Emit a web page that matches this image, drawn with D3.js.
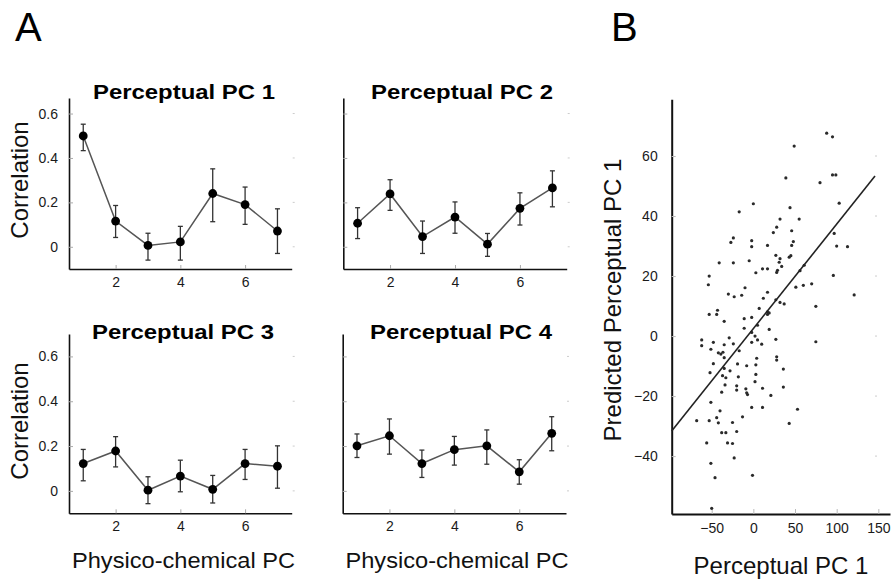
<!DOCTYPE html>
<html>
<head>
<meta charset="utf-8">
<script src="https://cdn.jsdelivr.net/npm/d3@7"></script>
<style>
  html, body { margin: 0; padding: 0; background: #fff; }
  svg { display: block; font-family: "Liberation Sans", Arial, Helvetica, sans-serif; }
  svg text { font-family: "Liberation Sans", Arial, Helvetica, sans-serif; }
</style>
</head>
<body>
<svg id="chart" width="894" height="579"></svg>
<script>
// ---------------- DATA ----------------
const physPC = [1, 2, 3, 4, 5, 6, 7];
const xTickValsA = [2, 4, 6];
const yTickValsA = [0, 0.2, 0.4, 0.6];
const yTickLabelsA = ["0", "0.2", "0.4", "0.6"];

const panelTitles = ["Perceptual PC 1", "Perceptual PC 2", "Perceptual PC 3", "Perceptual PC 4"];

const pc1Mean = [0.499, 0.116, 0.006, 0.022, 0.240, 0.190, 0.071];
const pc1Hi   = [0.552, 0.186, 0.061, 0.092, 0.351, 0.269, 0.171];
const pc1Lo   = [0.433, 0.042, -0.060, -0.060, 0.113, 0.101, -0.030];

const pc2Mean = [0.106, 0.238, 0.046, 0.134, 0.012, 0.173, 0.265];
const pc2Hi   = [0.176, 0.302, 0.116, 0.202, 0.060, 0.243, 0.342];
const pc2Lo   = [0.037, 0.164, -0.030, 0.061, -0.043, 0.098, 0.180];

const pc3Mean = [0.122, 0.178, 0.003, 0.066, 0.007, 0.122, 0.110];
const pc3Hi   = [0.185, 0.242, 0.063, 0.137, 0.069, 0.185, 0.201];
const pc3Lo   = [0.045, 0.107, -0.057, -0.004, -0.054, 0.051, 0.012];

const pc4Mean = [0.201, 0.246, 0.122, 0.184, 0.201, 0.085, 0.257];
const pc4Hi   = [0.254, 0.321, 0.182, 0.243, 0.272, 0.139, 0.331];
const pc4Lo   = [0.149, 0.164, 0.060, 0.115, 0.119, 0.030, 0.179];

// Panel B scatter: actual (Perceptual PC 1) vs predicted
const actualPC1 = [
  88, 95, 49, 39, 80, 95, 99, 103, 0, -17, 44, 32, 55, 28, 24, 46, 48, 46, -2, -2,
  -24, -27, 17, 97, 100, 113, -41, -24, -5, 27, 32, 31, 43, 45, 61, 34, 29, 28, 3, 11,
  17, 56, 96, -53, -54, -10, 51, 60, 70, -30, -23, -14, 17, 12, 27, 32, 37, 75, 121, 7,
  17, 17, 19, -53, -43, -44, -35, -11, -2, -11, 5, 19, -2, 2, -29, -62, -62, -48, -24, -2,
  5, 10, 27, 75, -35, -51, -42, -39, -36.5, -35, -17, 4, 28, 28, -48, -19, -8, 3, -52, -35,
  -28, 36, -37, -33, -18, 3, 2, -34, -20, -20, -9, -8, -7, 11, 36, -38, 21, -51, -2, 11,
  53, -40, -68, -53, -44, -42, -25, -13, 43, -38, -33, -20, -56, -31, -25, -23, -51, -46, -1, -50
];
const predictedPC1 = [
  67.6, 66.4, 63.3, 52.7, 51.1, 53.7, 53.7, 44.3, 44.1, 41.4, 42.8, 39, 39, 36.3, 34.5, 35.1, 31.5, 30.2, 31.8, 29.8,
  32.7, 31.2, 30.2, 34.2, 30, 29.8, 24.4, 24.4, 25.1, 26.9, 25.8, 24.6, 26.3, 26.8, 23.6, 23.2, 21.9, 21.2, 21.1, 22.4,
  22.4, 21.8, 20.2, 20, 17.1, 16.1, 16.3, 16.9, 17.4, 14, 13.1, 13.6, 14.6, 12.6, 12.1, 11.2, 10.7, 9.9, 13.7, 9.2,
  8.1, 7.2, 7.7, 7.2, 8.6, 7.2, 4.9, 5.8, 6.2, 2.6, 3.6, 2.2, 1.2, 0, -0.6, -1.3, -3.2, -2.1, -2.6, -2.1,
  -1.3, -2.7, -1.1, -1.9, -2.9, -4.4, -5.6, -6, -5.4, -7.2, -4.9, -7.4, -6.9, -8, -9.2, -9.3, -9.9, -9.6, -12.2, -10.8,
  -11.6, -11, -13.2, -13.9, -13.6, -12.8, -15.2, -16.3, -16.6, -18, -17.6, -18.9, -19.5, -17.4, -17, -18.7, -19.8, -22.1, -23.8, -23.8,
  -24.4, -24.9, -28.2, -28.2, -27.2, -28.9, -28.8, -26.9, -29.1, -32.2, -32.2, -31.8, -35.6, -35.6, -35.8, -40.6, -42.4, -47.2, -46.4, -57.4
];
const fitIntercept = 2.5;
const fitSlope = 0.348;
const fitRange = [-98, 146];

const xTickValsB = [-50, 0, 50, 100, 150];
const yTickValsB = [-40, -20, 0, 20, 40, 60];

// ---------------- DRAW ----------------
const svg = d3.select("#chart");
const FONT = '"Liberation Sans", Arial, Helvetica, sans-serif';

function styleAxis(gAxis, strokeW, tickColor) {
  gAxis.attr("font-family", FONT);
  gAxis.select(".domain").attr("stroke", "#111").attr("stroke-width", strokeW);
  gAxis.selectAll(".tick line").attr("stroke", tickColor);
  gAxis.selectAll(".tick text").attr("font-size", 14).attr("fill", "#1a1a1a");
}

function drawPanelA(cfg) {
  const x = d3.scaleLinear().domain([0.56, 7.44]).range(cfg.xr);
  const y = d3.scaleLinear().domain(cfg.yd).range(cfg.yr);
  const g = svg.append("g");

  // faint right ticks
  g.selectAll(".rt").data(yTickValsA).enter().append("line")
    .attr("x1", cfg.xr[1] + 1).attr("x2", cfg.xr[1] + 3)
    .attr("y1", d => y(d)).attr("y2", d => y(d))
    .attr("stroke", "#ccc").attr("stroke-width", 1);

  // axes
  const xAxis = d3.axisBottom(x).tickValues(xTickValsA).tickSizeInner(-4).tickSizeOuter(0)
    .tickPadding(8).tickFormat(d3.format("d"));
  styleAxis(g.append("g").attr("transform", `translate(0,${cfg.yr[0]})`).call(xAxis), 1.6, "#aaa");

  const yAxis = d3.axisLeft(y).tickValues(yTickValsA).tickSizeInner(-4).tickSizeOuter(0)
    .tickPadding(11).tickFormat((d, i) => cfg.showY ? yTickLabelsA[i] : "");
  styleAxis(g.append("g").attr("transform", `translate(${cfg.xr[0]},0)`).call(yAxis), 1.6, "#aaa");

  // connecting line
  const line = d3.line().x((d, i) => x(physPC[i])).y(d => y(d));
  g.append("path").datum(cfg.mean).attr("d", line)
    .attr("fill", "none").attr("stroke", "#555").attr("stroke-width", 1.5);

  // error bars
  const eb = g.selectAll(".eb").data(physPC).enter().append("g");
  eb.append("line")
    .attr("x1", d => x(d)).attr("x2", d => x(d))
    .attr("y1", (d, i) => y(cfg.lo[i])).attr("y2", (d, i) => y(cfg.hi[i]))
    .attr("stroke", "#333").attr("stroke-width", 1.3);
  eb.append("line")
    .attr("x1", d => x(d) - 2.5).attr("x2", d => x(d) + 2.5)
    .attr("y1", (d, i) => y(cfg.hi[i])).attr("y2", (d, i) => y(cfg.hi[i]))
    .attr("stroke", "#333").attr("stroke-width", 1.3);
  eb.append("line")
    .attr("x1", d => x(d) - 2.5).attr("x2", d => x(d) + 2.5)
    .attr("y1", (d, i) => y(cfg.lo[i])).attr("y2", (d, i) => y(cfg.lo[i]))
    .attr("stroke", "#333").attr("stroke-width", 1.3);

  // markers
  g.selectAll(".pt").data(physPC).enter().append("circle")
    .attr("cx", d => x(d)).attr("cy", (d, i) => y(cfg.mean[i]))
    .attr("r", 4.4).attr("fill", "#000");

  // title
  g.append("text").attr("x", cfg.tx).attr("y", cfg.ty)
    .attr("text-anchor", "middle").attr("font-size", 21).attr("font-weight", "bold")
    .attr("textLength", 182).attr("lengthAdjust", "spacingAndGlyphs")
    .attr("fill", "#000").text(cfg.title);

  if (cfg.showY) {
    g.append("text")
      .attr("transform", `translate(28,${cfg.ylabY}) rotate(-90)`)
      .attr("text-anchor", "middle").attr("font-size", 24).attr("fill", "#111")
      .text("Correlation");
  }
  if (cfg.showX) {
    g.append("text").attr("x", cfg.xlabX).attr("y", 568)
      .attr("text-anchor", "middle").attr("font-size", 22).attr("fill", "#111")
      .attr("textLength", 223).attr("lengthAdjust", "spacingAndGlyphs")
      .text("Physico-chemical PC");
  }
}

drawPanelA({ xr: [69, 291.7], yd: [-0.1, 0.67], yr: [269, 98], mean: pc1Mean, hi: pc1Hi, lo: pc1Lo,
  title: panelTitles[0], tx: 184, ty: 99, showY: true, showX: false, ylabY: 180 });
drawPanelA({ xr: [343.3, 566.7], yd: [-0.1, 0.67], yr: [269, 98], mean: pc2Mean, hi: pc2Hi, lo: pc2Lo,
  title: panelTitles[1], tx: 462, ty: 99, showY: false, showX: false });
drawPanelA({ xr: [69, 291.7], yd: [-0.1, 0.70], yr: [513.3, 334], mean: pc3Mean, hi: pc3Hi, lo: pc3Lo,
  title: panelTitles[2], tx: 183, ty: 339, showY: true, showX: true, ylabY: 421, xlabX: 183.5 });
drawPanelA({ xr: [342.7, 566], yd: [-0.1, 0.70], yr: [513.3, 334], mean: pc4Mean, hi: pc4Hi, lo: pc4Lo,
  title: panelTitles[3], tx: 461, ty: 339, showY: false, showX: true, xlabX: 457 });

// Panel B
(function () {
  const x = d3.scaleLinear().domain([-98, 164]).range([671.7, 890]);
  const y = d3.scaleLinear().domain([-59.3, 78.9]).range([514, 99.3]);
  const g = svg.append("g");

  // faint right ticks
  g.selectAll(".rt").data(yTickValsB).enter().append("line")
    .attr("x1", x(146)).attr("x2", x(146) + 2)
    .attr("y1", d => y(d)).attr("y2", d => y(d))
    .attr("stroke", "#ccc").attr("stroke-width", 1);

  const xAxis = d3.axisBottom(x).tickValues(xTickValsB).tickSizeInner(-5).tickSizeOuter(0).tickPadding(9);
  styleAxis(g.append("g").attr("transform", `translate(0,${y.range()[0]})`).call(xAxis), 2, "#bbb");

  const yAxis = d3.axisLeft(y).tickValues(yTickValsB).tickSizeInner(-4).tickSizeOuter(0).tickPadding(14);
  styleAxis(g.append("g").attr("transform", `translate(${x.range()[0]},0)`).call(yAxis), 2, "#bbb");

  // scatter
  g.selectAll(".dot").data(actualPC1).enter().append("circle")
    .attr("cx", d => x(d)).attr("cy", (d, i) => y(predictedPC1[i]))
    .attr("r", 1.6).attr("fill", "#2a2a2a");

  // regression line
  g.append("line")
    .attr("x1", x(fitRange[0])).attr("y1", y(fitIntercept + fitSlope * fitRange[0]))
    .attr("x2", x(fitRange[1])).attr("y2", y(fitIntercept + fitSlope * fitRange[1]))
    .attr("stroke", "#222").attr("stroke-width", 1.6);

  g.append("text")
    .attr("transform", `translate(621,300) rotate(-90)`)
    .attr("text-anchor", "middle").attr("font-size", 24).attr("fill", "#111")
    .text("Predicted Perceptual PC 1");
  g.append("text").attr("x", 781).attr("y", 574)
    .attr("text-anchor", "middle").attr("font-size", 24).attr("fill", "#111")
    .text("Perceptual PC 1");
})();

// panel letters
svg.append("text").attr("x", 15).attr("y", 41).attr("font-size", 40).attr("fill", "#000").text("A");
svg.append("text").attr("x", 611).attr("y", 41).attr("font-size", 40).attr("fill", "#000").text("B");
</script>
</body>
</html>
